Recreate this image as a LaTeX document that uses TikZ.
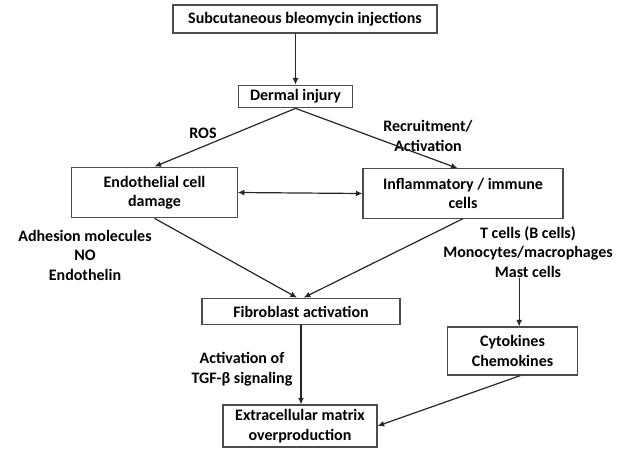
\documentclass[tikz,border=0pt]{standalone}
\usepackage{fontspec}
\setmainfont{Carlito}
\usetikzlibrary{arrows.meta}

\begin{document}
\begin{tikzpicture}[x=0.75pt,y=-0.75pt,
    boxnode/.style={rectangle, draw=black!70, line width=0.8pt, align=center, inner sep=1pt, font=\bfseries},
    textnode/.style={align=center, inner sep=0pt, font=\bfseries},
    arr/.style={draw=black!85, line width=0.9pt, -{Latex[length=5pt,width=4.5pt]}},
    darr/.style={draw=black!85, line width=0.9pt, {Latex[length=5pt,width=4.5pt]}-{Latex[length=5pt,width=4.5pt]}},
    ]
    \useasboundingbox (0,0) rectangle (629,450);
    \fontsize{12}{14.6}\selectfont
    \node [boxnode, minimum width=198pt, minimum height=21pt] (sub) at (305,19) {Subcutaneous bleomycin injections};
    \node [boxnode, minimum width=86pt, minimum height=17pt] (derm) at (295.5,96.5) {Dermal injury};

    \node [boxnode, minimum width=124pt, minimum height=38pt] (endo) at (154.5,192.5) {Endothelial cell\\damage};
    \node [boxnode, minimum width=150pt, minimum height=37pt] (infl) at (463,193.5) {Inflammatory / immune\\cells};

    \node [boxnode, minimum width=148.5pt, minimum height=20pt] (fib) at (301,311.5) {Fibroblast activation};
    \node [boxnode, minimum width=98pt, minimum height=36pt] (cyto) at (512.5,351) {Cytokines\\Chemokines};
    \node [boxnode, minimum width=115.5pt, minimum height=31.5pt] (ecm) at (300,426) {Extracellular matrix\\overproduction};

    \node [textnode] (ros) at (203,133) {ROS};
    \node [textnode] (recr) at (428,136) {Recruitment/\\Activation};
    \node [textnode] (adh) at (85,255) {Adhesion molecules\\NO\\Endothelin};
    \node [textnode] (tcells) at (528,252) {T cells (B cells)\\Monocytes/macrophages\\Mast cells};
    \node [textnode] (tgf) at (242,369) {Activation of\\TGF-β signaling};

    \draw [arr] (sub.south -| derm.north) -- (derm.north);
    \draw [arr] (derm.south) -- (endo.north);
    \draw [arr] (derm.south) -- ([xshift=-4pt]infl.north);
    \draw [darr] (endo.east) -- (infl.west);

    \draw [arr] (endo.south) -- ([xshift=-3pt]fib.north);
    \draw [arr] (infl.south) -- ([xshift=2pt]fib.north);
    \draw [arr] (fib.south) -- (fib.south |- ecm.north);

    \draw [arr] ([xshift=5pt]cyto.north |- tcells.south) -- ([xshift=5pt]cyto.north);
    \draw [arr] ([xshift=6pt]cyto.south) -- (ecm.east);
  \end{tikzpicture}
\end{document}
